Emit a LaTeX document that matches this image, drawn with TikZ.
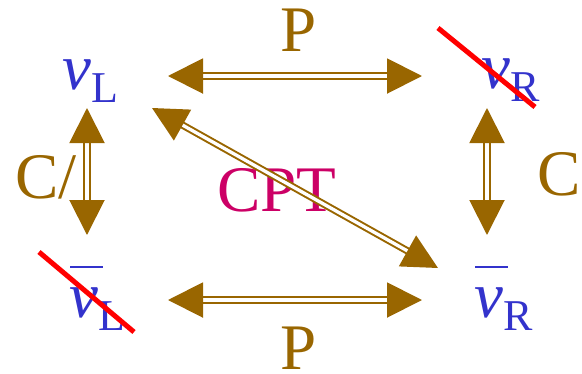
\documentclass[tikz,border=0pt]{standalone}
\usepackage{fontspec}
\setmainfont{Liberation Serif}
\usepackage{xcolor}
\usepackage{tikz}
\usetikzlibrary{arrows.meta,calc}

\definecolor{symbrown}{HTML}{996600}
\definecolor{nublue}{HTML}{3333CC}
\definecolor{cptpink}{HTML}{CC0066}

\newcommand{\nuname}[1]{{\itshape ν}\raisebox{-13pt}{\fontsize{44}{50}\selectfont #1}}
\newcommand{\nubarname}[1]{\rlap{\hspace{1pt}\raisebox{49pt}{\rule{33pt}{2pt}}}\nuname{#1}}

\begin{document}
\begin{tikzpicture}[x=1pt,y=-1pt,
    dbl/.style={draw=symbrown,line width=2pt,double=white,double distance=3.3pt,
      {Triangle[length=35pt,width=35pt]}-{Triangle[length=35pt,width=35pt]}},
    strike/.style={draw=red,line width=5pt},
    nu/.style={text=nublue,anchor=base west,inner sep=0pt,font=\fontsize{65}{70}\selectfont},
    sym/.style={text=symbrown,inner sep=0pt,font=\fontsize{65}{70}\selectfont}]
  \useasboundingbox (0,0) rectangle (582,373);

  % the four neutrino states
  \node[nu] (nuL) at (62,89) {\nuname{L}};
  \node[nu] (nuR) at (481,88) {\nuname{R}};
  \node[nu] (nubL) at (69,317) {\nubarname{L}};
  \node[nu] (nubR) at (474,317) {\nubarname{R}};

  % symmetry labels
  \node[sym] (Ptop) at (299,30) {P};
  \node[sym] (Pbot) at (299,348) {P};
  \node[sym] (Cleft) at (46,177) {C/};
  \node[sym] (Cright) at (559,174) {C};
  \node[sym,text=cptpink] (CPT) at (277,190) {CPT};

  % transformations
  \draw[dbl] ([shift={(106,-13)}]nuL.base west) -- ([shift={(-59,-12)}]nuR.base west);
  \draw[dbl] ([shift={(99,-17)}]nubL.base west) -- ([shift={(-52,-17)}]nubR.base west);
  \draw[dbl] ([shift={(25,19)}]nuL.base west) -- ([shift={(18,-82)}]nubL.base west);
  \draw[dbl] ([shift={(6,20)}]nuR.base west) -- ([shift={(13,-82)}]nubR.base west);
  \draw[dbl] ([shift={(90,19)}]nuL.base west) -- ([shift={(-36,-49)}]nubR.base west);

  % states that do not exist
  \draw[strike] ([shift={(-43,-60)}]nuR.base west) -- ([shift={(54,19)}]nuR.base west);
  \draw[strike] ([shift={(-30,-65)}]nubL.base west) -- ([shift={(65,15)}]nubL.base west);
\end{tikzpicture}
\end{document}
